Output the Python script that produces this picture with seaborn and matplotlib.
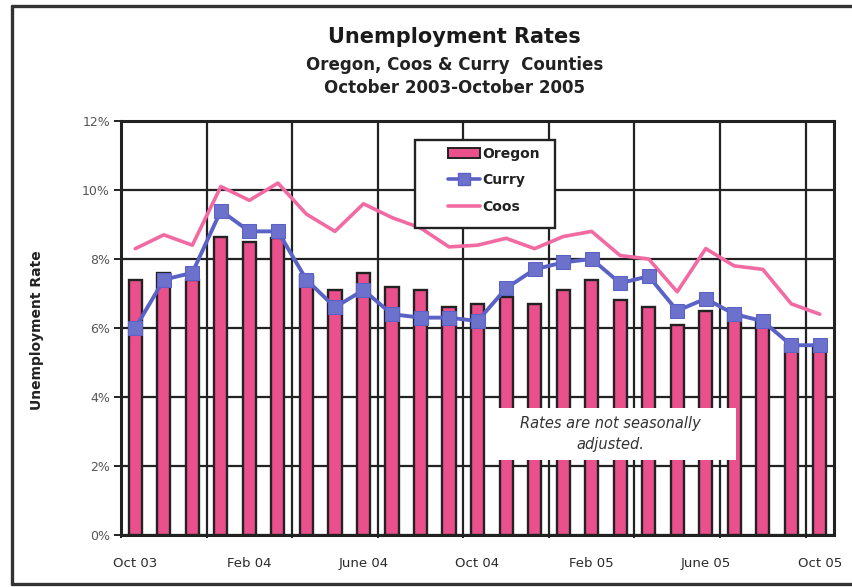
import numpy as np
import pandas as pd
import matplotlib
matplotlib.use("Agg")
import matplotlib.pyplot as plt
import seaborn as sns
from matplotlib.lines import Line2D
from matplotlib.patches import Patch, Rectangle
from matplotlib.ticker import FixedLocator, FuncFormatter

# Monthly unemployment rates (%), Oct 2003 - Oct 2005
months = ["Oct 03", "Nov 03", "Dec 03", "Jan 04", "Feb 04", "Mar 04", "Apr 04",
          "May 04", "June 04", "Jul 04", "Aug 04", "Sep 04", "Oct 04", "Nov 04",
          "Dec 04", "Jan 05", "Feb 05", "Mar 05", "Apr 05", "May 05", "June 05",
          "Jul 05", "Aug 05", "Sep 05", "Oct 05"]
oregon = [7.4, 7.6, 7.4, 8.65, 8.5, 8.6, 7.5, 7.1, 7.6, 7.2, 7.1, 6.6, 6.7,
          6.9, 6.7, 7.1, 7.4, 6.8, 6.6, 6.1, 6.5, 6.4, 6.2, 5.5, 5.5]
curry = [6.0, 7.4, 7.6, 9.4, 8.8, 8.8, 7.4, 6.6, 7.1, 6.4, 6.3, 6.3, 6.2,
         7.15, 7.7, 7.9, 8.0, 7.3, 7.5, 6.5, 6.85, 6.4, 6.2, 5.5, 5.5]
coos = [8.3, 8.7, 8.4, 10.1, 9.7, 10.2, 9.3, 8.8, 9.6, 9.2, 8.9, 8.35, 8.4,
        8.6, 8.3, 8.65, 8.8, 8.1, 8.0, 7.05, 8.3, 7.8, 7.7, 6.7, 6.4]
label_months = ["Oct 03", "Feb 04", "June 04", "Oct 04", "Feb 05", "June 05", "Oct 05"]
y_ticks = [0, 2, 4, 6, 8, 10, 12]

df = pd.DataFrame({"month": months, "Oregon": oregon, "Curry": curry, "Coos": coos})

PINK = "#e9508c"
BLUE = "#5a62c6"
COOS = "#f26aa2"
DARK = "#222222"

sns.set_style("white")
plt.rcParams["font.family"] = ["DejaVu Sans"]

fig = plt.figure(figsize=(8.53, 5.87), dpi=100)
ax = fig.add_axes([0.1419, 0.0886, 0.8359, 0.7053])

sns.barplot(data=df, x="month", y="Oregon", color=PINK, saturation=1,
            width=0.46, edgecolor=DARK, linewidth=1.7, ax=ax, zorder=3)
xs = np.arange(len(months))
sns.lineplot(x=xs, y=coos, color=COOS, lw=2.6, ax=ax, zorder=4, sort=False)
sns.lineplot(x=xs, y=curry, color=BLUE, lw=2.8, marker="s", markersize=10.5,
             markerfacecolor="#6c72cc", markeredgecolor=BLUE, ax=ax, zorder=5,
             sort=False)

ax.set_xlim(-0.5, len(months) - 0.5)
ax.set_ylim(0, 12)

# tick labels every fourth month, gridlines every third month
label_pos = [months.index(m) for m in label_months]
ax.xaxis.set_major_locator(FixedLocator(label_pos))
ax.set_xticklabels(label_months)
ax.xaxis.set_minor_locator(FixedLocator(np.arange(-0.5, len(months), 3)))
ax.tick_params(axis="x", which="major", length=0, pad=16, labelsize=9.5,
               colors="#2a2a2a")
ax.tick_params(axis="x", which="minor", length=5, width=1.4, direction="inout",
               color=DARK, bottom=True)
ax.grid(axis="x", which="minor", color=DARK, lw=1.6, zorder=0)

ax.set_yticks(y_ticks)
ax.yaxis.set_major_formatter(FuncFormatter(lambda v, p: f"{v:.0f}%"))
ax.tick_params(axis="y", length=5, width=1.4, direction="out", left=True,
               color=DARK, labelsize=9, pad=3, labelcolor="#555555")
ax.grid(axis="y", which="major", color=DARK, lw=1.6, zorder=0)
ax.set_axisbelow(True)
ax.set_xlabel("")
ax.set_ylabel("Unemployment Rate", fontsize=10, fontweight="bold", color=DARK,
              labelpad=0)
ax.yaxis.set_label_coords(-0.108, 0.495)

for s in ax.spines.values():
    s.set_visible(True)
    s.set_color(DARK)
    s.set_linewidth(2.2)

# legend: box drawn separately, entries placed inside it
ax.add_patch(Rectangle((0.412, 0.742), 0.196, 0.2126, transform=ax.transAxes,
                       facecolor="white", edgecolor=DARK, lw=1.7, zorder=8))
handles = [Patch(facecolor=PINK, edgecolor=DARK, linewidth=1.4),
           Line2D([], [], color=BLUE, lw=2.6, marker="s", markersize=9,
                  markerfacecolor="#6c72cc", markeredgecolor=BLUE),
           Line2D([], [], color=COOS, lw=2.6)]
leg = ax.legend(handles, ["Oregon", "Curry", "Coos"], loc="upper left",
                bbox_to_anchor=(0.4586, 0.938), frameon=False, fontsize=10,
                handlelength=2.3, handletextpad=0.15, labelspacing=0.9,
                borderpad=0, borderaxespad=0)
leg.set_zorder(9)
for t in leg.get_texts():
    t.set_fontweight("bold")
    t.set_color(DARK)

# note box
ax.add_patch(Rectangle((12.3, 2.17), 8.75, 1.52, facecolor="white",
                       edgecolor="none", zorder=6))
ax.text(16.65, 2.93, "Rates are not seasonally\nadjusted.", ha="center",
        va="center", fontsize=10.5, style="italic", color="#333333", zorder=7,
        linespacing=1.45)

# titles
fig.text(0.533, 0.937, "Unemployment Rates", ha="center", va="center",
         fontsize=15, fontweight="bold", color="#1a1a1a")
fig.text(0.533, 0.889, "Oregon, Coos & Curry  Counties", ha="center",
         va="center", fontsize=12, fontweight="bold", color="#222222")
fig.text(0.533, 0.850, "October 2003-October 2005", ha="center",
         va="center", fontsize=12, fontweight="bold", color="#222222")

# outer page frame
frame_kw = dict(color="#333333", lw=2.4, transform=fig.transFigure)
fig.add_artist(Line2D([12 / 853, 1.0], [1 - 6 / 587, 1 - 6 / 587], **frame_kw))
fig.add_artist(Line2D([12 / 853, 12 / 853], [1 - 6 / 587, 1 - 584 / 587], **frame_kw))
fig.add_artist(Line2D([12 / 853, 1.0], [1 - 584 / 587, 1 - 584 / 587], **frame_kw))

fig.savefig("out.png", dpi=100, facecolor="white")
